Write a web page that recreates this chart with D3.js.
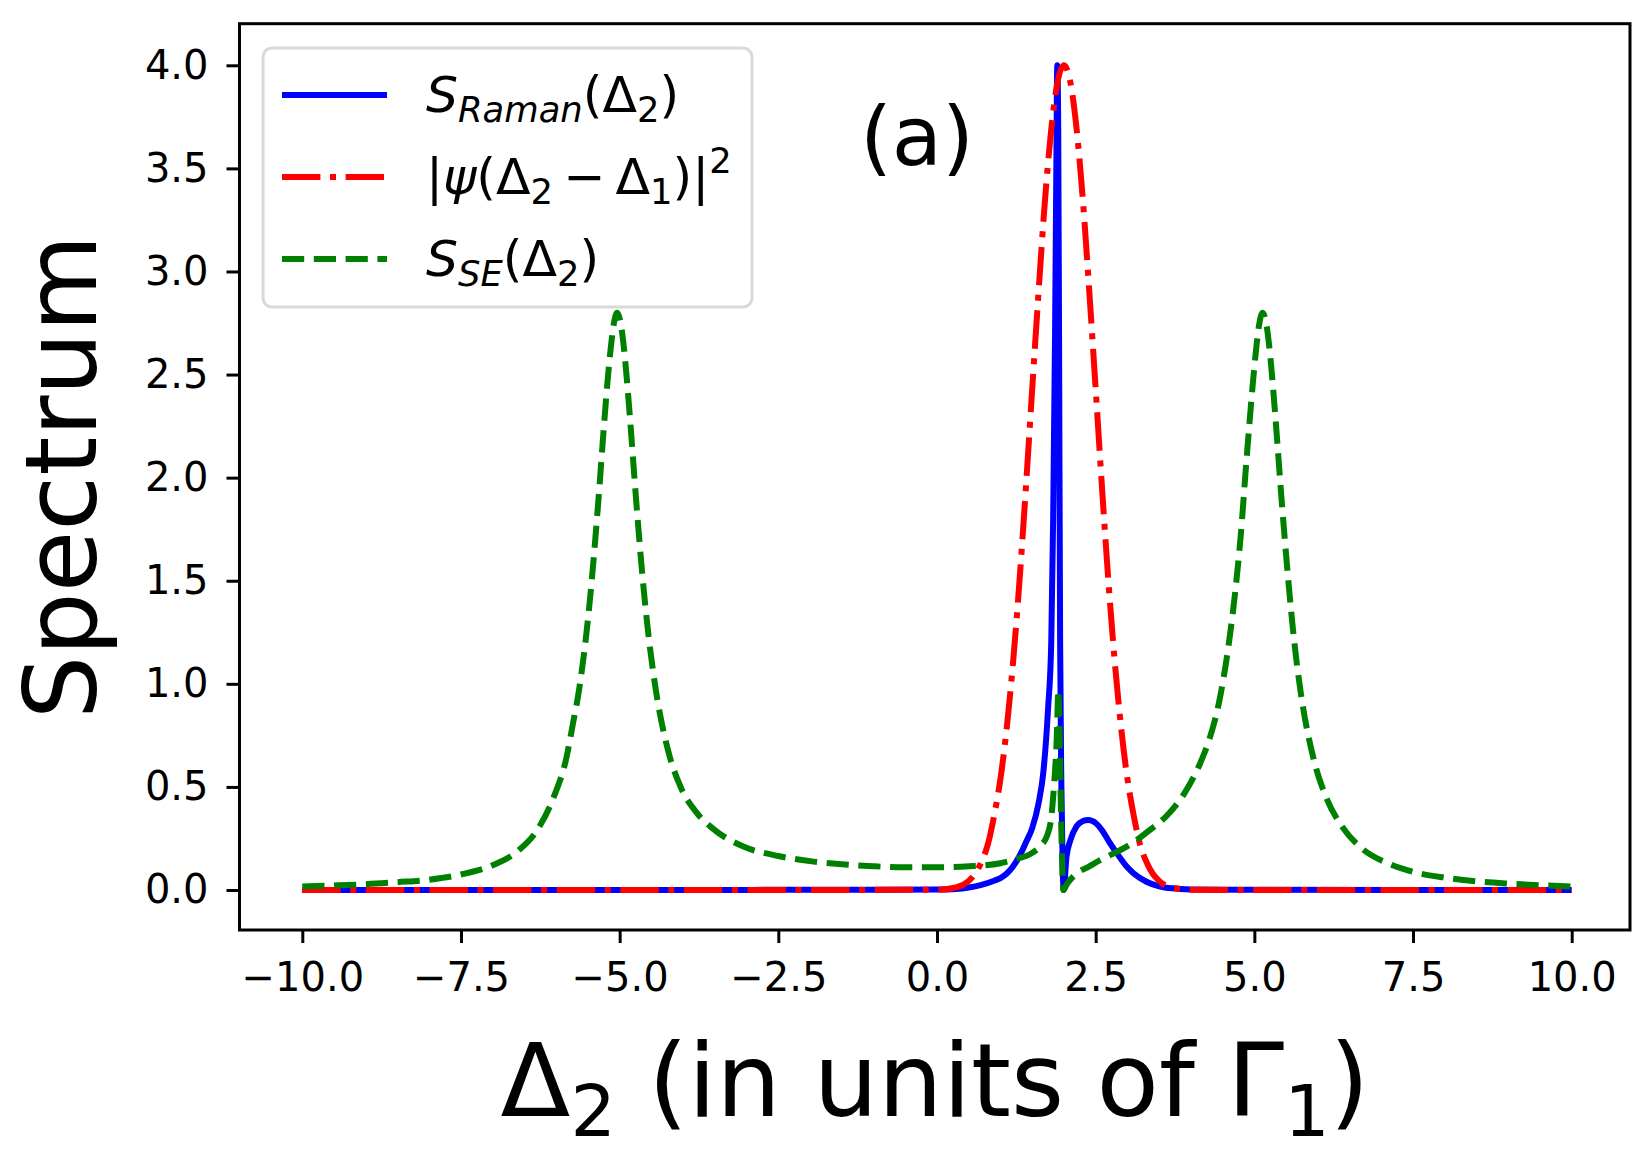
<!DOCTYPE html>
<html><head><meta charset="utf-8">
<script src="https://cdn.jsdelivr.net/npm/d3@7"></script>
<style>html,body{margin:0;padding:0;background:#fff}svg{display:block}</style>
</head><body>
<script>
// ---- data ----
const xTicks = [-10, -7.5, -5, -2.5, 0, 2.5, 5, 7.5, 10];
const xTickLabels = ["\u221210.0", "\u22127.5", "\u22125.0", "\u22122.5", "0.0", "2.5", "5.0", "7.5", "10.0"];
const yTicks = [0, 0.5, 1, 1.5, 2, 2.5, 3, 3.5, 4];
const yTickLabels = ["0.0", "0.5", "1.0", "1.5", "2.0", "2.5", "3.0", "3.5", "4.0"];

// S_Raman(Δ2)
const ramanX = [-10, -5, -2, 0, 0.3, 0.5, 0.7, 0.9, 1.0, 1.1, 1.2, 1.3, 1.4, 1.5, 1.6, 1.675, 1.75, 1.8, 1.83, 1.86, 1.88, 1.895, 1.91, 1.925, 1.94, 1.96, 1.98, 1.995, 2.04, 2.1, 2.2, 2.3, 2.38, 2.5, 2.6, 2.7, 2.83, 3.0, 3.1, 3.3, 3.5, 3.7, 4.0, 5.0, 10];
const ramanY = [0, 0, 0.001, 0.002, 0.005, 0.012, 0.025, 0.045, 0.058, 0.08, 0.115, 0.165, 0.23, 0.3, 0.42, 0.57, 0.88, 1.2, 1.8, 2.7, 3.5, 4.0, 3.7, 2.5, 1.2, 0.5, 0.12, 0.0, 0.16, 0.24, 0.31, 0.335, 0.34, 0.325, 0.29, 0.24, 0.18, 0.11, 0.08, 0.04, 0.018, 0.008, 0.003, 0.001, 0];

// |ψ(Δ2 − Δ1)|²
const psiX = [-10, -5, 0, 0.3, 0.5, 0.6, 0.7, 0.8, 0.9, 1.0, 1.1, 1.2, 1.3, 1.4, 1.5, 1.6, 1.7, 1.8, 1.9, 2.0, 2.1, 2.2, 2.3, 2.4, 2.5, 2.6, 2.7, 2.8, 2.9, 3.0, 3.1, 3.2, 3.3, 3.4, 3.5, 3.7, 4.0, 5, 10];
const psiY = [0, 0, 0.001, 0.012, 0.044, 0.079, 0.136, 0.22, 0.36, 0.54, 0.79, 1.11, 1.5, 1.95, 2.43, 2.9, 3.34, 3.69, 3.92, 4.0, 3.92, 3.69, 3.34, 2.9, 2.43, 1.95, 1.5, 1.11, 0.79, 0.54, 0.36, 0.22, 0.136, 0.079, 0.044, 0.012, 0.001, 0, 0];

// S_SE(Δ2)
const seX = [-10, -9.5, -9, -8.5, -8, -7.5, -7, -6.6, -6.3, -6.04, -5.84, -5.74, -5.64, -5.54, -5.44, -5.34, -5.24, -5.19, -5.14, -5.09, -5.04, -4.99, -4.94, -4.89, -4.84, -4.74, -4.64, -4.54, -4.44, -4.24, -4.04, -3.8, -3.54, -3.04, -2.5, -2, -1.5, -1, -0.5, 0, 0.5, 1.0, 1.25, 1.5, 1.65, 1.73, 1.8, 1.83, 1.86, 1.886, 1.9, 1.911, 1.925, 1.94, 1.955, 1.97, 1.99, 2.05, 2.2, 2.4, 2.57, 2.8, 3.09, 3.35, 3.62, 3.9, 4.14, 4.3, 4.45, 4.6, 4.7, 4.78, 4.88, 4.98, 5.03, 5.08, 5.13, 5.18, 5.23, 5.28, 5.33, 5.43, 5.53, 5.63, 5.73, 5.93, 6.13, 6.4, 6.7, 7.1, 7.5, 8.0, 8.5, 9.0, 9.5, 10];
const seY = [0.017, 0.022, 0.028, 0.038, 0.05, 0.075, 0.12, 0.19, 0.29, 0.45, 0.64, 0.8, 0.97, 1.2, 1.5, 1.87, 2.28, 2.47, 2.63, 2.75, 2.8, 2.76, 2.65, 2.49, 2.3, 1.89, 1.52, 1.22, 0.99, 0.68, 0.5, 0.38, 0.3, 0.21, 0.165, 0.14, 0.125, 0.115, 0.11, 0.11, 0.115, 0.13, 0.15, 0.18, 0.22, 0.26, 0.35, 0.45, 0.58, 0.73, 0.88, 0.97, 0.85, 0.6, 0.35, 0.15, 0.0, 0.03, 0.08, 0.115, 0.145, 0.18, 0.23, 0.29, 0.36, 0.47, 0.61, 0.74, 0.92, 1.2, 1.45, 1.7, 2.1, 2.47, 2.63, 2.75, 2.8, 2.76, 2.65, 2.49, 2.3, 1.89, 1.52, 1.2, 0.96, 0.64, 0.45, 0.3, 0.2, 0.13, 0.088, 0.06, 0.042, 0.031, 0.023, 0.017];

// ---- layout ----
const W = 1648, H = 1155;
const frame = {left: 239.5, right: 1630, top: 23.7, bottom: 930};
const FONT = "'DejaVu Sans', Verdana, sans-serif";

const svg = d3.select("body").append("svg").attr("width", W).attr("height", H)
  .style("font-family", FONT);
svg.append("rect").attr("width", W).attr("height", H).attr("fill", "#fff");

const x = d3.scaleLinear().domain([-10, 10]).range([302.3, 1571.7]);
const y = d3.scaleLinear().domain([0, 4]).range([890, 65.3]);

const toPts = (xs, ys) => xs.map((v, i) => [v, ys[i]]);
const line = d3.line().x(d => x(d[0])).y(d => y(d[1])).curve(d3.curveMonotoneX);

const LW = 6;
const series = [
  {pts: toPts(ramanX, ramanY), color: "#0000ff", dash: null},
  {pts: toPts(psiX, psiY), color: "#ff0000", dash: "38.4,9.6,6,9.6"},
  {pts: toPts(seX, seY), color: "#008000", dash: "22.2,9.6"}
];
const plot = svg.append("g");
series.forEach(s => {
  plot.append("path").datum(s.pts).attr("d", line)
    .attr("fill", "none").attr("stroke", s.color).attr("stroke-width", LW)
    .attr("stroke-linecap", "butt").attr("stroke-linejoin", "round")
    .attr("stroke-dasharray", s.dash);
});

// axes
const xAxis = d3.axisBottom(x).tickValues(xTicks).tickFormat((d, i) => xTickLabels[i])
  .tickSize(13).tickPadding(20).tickSizeOuter(0);
const gx = svg.append("g").attr("transform", `translate(0,${frame.bottom})`).call(xAxis);
const yAxis = d3.axisLeft(y).tickValues(yTicks).tickFormat((d, i) => yTickLabels[i])
  .tickSize(13).tickPadding(18).tickSizeOuter(0);
const gy = svg.append("g").attr("transform", `translate(${frame.left},0)`).call(yAxis);
[gx, gy].forEach(g => {
  g.select(".domain").remove();
  g.selectAll(".tick line").attr("stroke", "#000").attr("stroke-width", 3);
  g.selectAll(".tick text").attr("fill", "#000").style("font-size", "40px").style("font-family", FONT);
});

svg.append("rect").attr("x", frame.left).attr("y", frame.top)
  .attr("width", frame.right - frame.left).attr("height", frame.bottom - frame.top)
  .attr("fill", "none").attr("stroke", "#000").attr("stroke-width", 3);

// math-ish text helper
function mathText(parent, parts, px, py, size, anchor) {
  const t = parent.append("text").attr("x", px).attr("y", py)
    .style("font-size", size + "px").attr("fill", "#000").attr("text-anchor", anchor || "start");
  let cur = 0;
  parts.forEach(p => {
    let target = 0, fs = size;
    if (p.sub) { target = 0.2 * size; fs = 0.7 * size; }
    if (p.sup) { target = -0.42 * size; fs = 0.7 * size; }
    t.append("tspan").attr("dy", target - cur).style("font-size", fs + "px")
      .style("font-style", p.it ? "italic" : "normal").text(p.t);
    cur = target;
  });
  return t;
}

// axis labels
mathText(svg, [{t: "\u0394"}, {t: "2", sub: true}, {t: " (in units of \u0393"}, {t: "1", sub: true}, {t: ")"}],
  935, 1116, 102, "middle");
svg.append("text").attr("transform", "translate(96,477) rotate(-90)")
  .attr("text-anchor", "middle").style("font-size", "100px").attr("fill", "#000").text("Spectrum");

// (a)
svg.append("text").attr("x", 917).attr("y", 165).attr("text-anchor", "middle")
  .style("font-size", "82px").attr("fill", "#000").text("(a)");

// legend
const lg = svg.append("g");
lg.append("rect").attr("x", 263).attr("y", 48).attr("width", 489).attr("height", 259)
  .attr("rx", 9).attr("fill", "#fff").attr("fill-opacity", 0.8)
  .attr("stroke", "#d9d9d9").attr("stroke-width", 3);
const legendItems = [
  {y: 95, s: series[0], parts: [{t: "S", it: true}, {t: "Raman", it: true, sub: true}, {t: "(\u0394"}, {t: "2", sub: true}, {t: ")"}]},
  {y: 177, s: series[1], parts: [{t: "|"}, {t: "\u03c8", it: true}, {t: "(\u0394"}, {t: "2", sub: true}, {t: "\u2009\u2212\u2009\u0394"}, {t: "1", sub: true}, {t: ")|"}, {t: "2", sup: true}]},
  {y: 259, s: series[2], parts: [{t: "S", it: true}, {t: "SE", it: true, sub: true}, {t: "(\u0394"}, {t: "2", sub: true}, {t: ")"}]}
];
legendItems.forEach(it => {
  lg.append("line").attr("x1", 282).attr("x2", 387).attr("y1", it.y).attr("y2", it.y)
    .attr("stroke", it.s.color).attr("stroke-width", LW).attr("stroke-dasharray", it.s.dash);
  mathText(lg, it.parts, 426, it.y + 17, 50.5, "start");
});
</script>
</body></html>
